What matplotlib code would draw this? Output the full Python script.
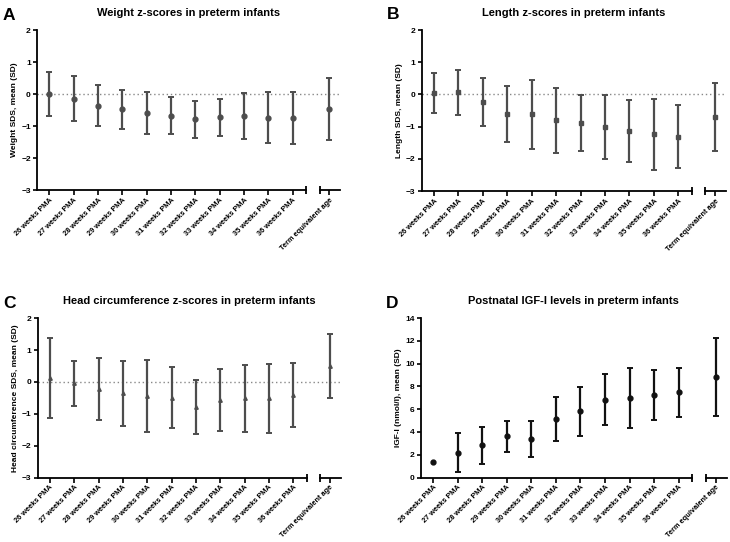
import numpy as np
import matplotlib
matplotlib.use("Agg")
import matplotlib.pyplot as plt

plt.rcParams['font.family'] = ['Liberation Sans', 'DejaVu Sans']
plt.rcParams['font.weight'] = 'bold'

categories = ['26 weeks PMA', '27 weeks PMA', '28 weeks PMA', '29 weeks PMA',
              '30 weeks PMA', '31 weeks PMA', '32 weeks PMA', '33 weeks PMA',
              '34 weeks PMA', '35 weeks PMA', '36 weeks PMA', 'Term equivalent age']

# Weight z-scores
weight_mean = [0.00, -0.14, -0.36, -0.47, -0.59, -0.68, -0.79, -0.73, -0.69, -0.74, -0.75, -0.47]
weight_sd = [0.70, 0.70, 0.63, 0.61, 0.66, 0.58, 0.57, 0.59, 0.72, 0.79, 0.81, 0.96]

# Length z-scores
length_mean = [0.05, 0.06, -0.23, -0.61, -0.62, -0.81, -0.88, -1.02, -1.14, -1.24, -1.31, -0.70]
length_sd = [0.63, 0.70, 0.75, 0.88, 1.06, 1.00, 0.87, 1.00, 0.97, 1.10, 0.97, 1.05]

# Head circumference z-scores
head_mean = [0.12, -0.05, -0.22, -0.36, -0.45, -0.49, -0.78, -0.57, -0.52, -0.52, -0.41, 0.51]
head_sd = [1.26, 0.71, 0.97, 1.03, 1.13, 0.95, 0.84, 0.96, 1.05, 1.07, 0.99, 1.00]

# IGF-I (nmol/l)
igf_mean = [1.37, 2.19, 2.83, 3.61, 3.35, 5.13, 5.80, 6.82, 6.97, 7.26, 7.49, 8.83]
igf_sd = [np.nan, 1.72, 1.62, 1.39, 1.58, 1.91, 2.12, 2.23, 2.63, 2.19, 2.16, 3.44]

# x positions: 11 weekly points, then term after a gap
xpos = np.append(np.arange(11), 11.5)
XMIN, XMAX = -0.5, 11.95
SEG1_END, SEG2_START = 10.55, 11.1

fig = plt.figure(figsize=(7.3, 5.42), dpi=100)


def draw_panel(rect, mean, sd, title, ylabel, ylim, yticks, marker, color, msize, letter, zero_line=True):
    ax = fig.add_axes(rect)
    if zero_line:
        ax.axhline(0, color='#888888', lw=1.0, ls=(0, (1, 2)), zorder=1)
    ax.errorbar(xpos, mean, yerr=sd, fmt=marker, color=color, ecolor=color,
                ms=msize, elinewidth=1.6, capsize=2.5, capthick=1.4, zorder=3)
    ax.set_xlim(XMIN, XMAX)
    ax.set_ylim(*ylim)
    ax.set_yticks(yticks)
    ax.set_xticks(xpos)
    ax.set_xticklabels(categories, rotation=45, ha='right', rotation_mode='anchor',
                       fontsize=5.3, fontweight='bold')
    ax.tick_params(axis='y', labelsize=6, width=1.2, length=3, pad=1.5)
    ax.tick_params(axis='x', width=1.2, length=3.5, pad=1)
    for lab in ax.get_yticklabels():
        lab.set_fontweight('bold')
    for s in ['top', 'right', 'bottom']:
        ax.spines[s].set_visible(False)
    ax.spines['left'].set_linewidth(1.3)
    # broken x axis
    trans = ax.get_xaxis_transform()
    ax.plot([XMIN, SEG1_END], [0, 0], color='black', lw=1.3, transform=trans, clip_on=False)
    ax.plot([SEG2_START, XMAX], [0, 0], color='black', lw=1.3, transform=trans, clip_on=False)
    ax.plot([SEG1_END, SEG2_START], [0, 0], ls='none', marker='|', ms=6, mew=1.3,
            color='black', transform=trans, clip_on=False)
    ax.set_ylabel(ylabel, fontsize=6, fontweight='bold', labelpad=2)
    ax.set_title(title, fontsize=8, fontweight='bold', pad=10)
    ax.text(-0.115, 1.14, letter, transform=ax.transAxes, fontsize=12.5, fontweight='bold',
            ha='left', va='top')
    return ax


draw_panel([0.0507, 0.6494, 0.4155, 0.2952], weight_mean, weight_sd,
           'Weight z-scores in preterm infants', 'Weight SDS, mean (SD)',
           (-3, 2), [-3, -2, -1, 0, 1, 2], 'o', '#4d4d4d', 3.5, 'A')
draw_panel([0.5777, 0.6476, 0.4168, 0.2970], length_mean, length_sd,
           'Length z-scores in preterm infants', 'Length SDS, mean (SD)',
           (-3, 2), [-3, -2, -1, 0, 1, 2], 's', '#4d4d4d', 3.5, 'B')
draw_panel([0.0516, 0.1190, 0.4150, 0.2940], head_mean, head_sd,
           'Head circumference z-scores in preterm infants', 'Head circumference SDS, mean (SD)',
           (-3, 2), [-3, -2, -1, 0, 1, 2], '^', '#4d4d4d', 2.5, 'C')
draw_panel([0.5763, 0.1190, 0.4190, 0.2940], igf_mean, igf_sd,
           'Postnatal IGF-I levels in preterm infants', 'IGF-I (nmol/l), mean (SD)',
           (0, 14), [0, 2, 4, 6, 8, 10, 12, 14], 'o', '#111111', 3.5, 'D', zero_line=False)

fig.savefig('out.png', dpi=100)
